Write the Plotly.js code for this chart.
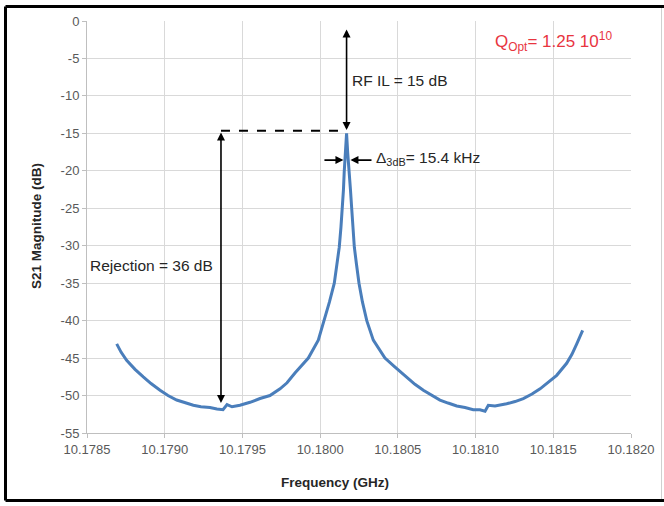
<!DOCTYPE html>
<html>
<head>
<meta charset="utf-8">
<script src="https://cdn.plot.ly/plotly-3.0.1.min.js"></script>
<style>
  html, body { margin: 0; padding: 0; background: #ffffff; }
  #chart { width: 664px; height: 506px; }
</style>
</head>
<body>
<div id="chart"></div>
<script>
// Frequency (GHz) values
const freqGHz = [
  10.178691, 10.178719, 10.178755, 10.178809, 10.178862, 10.178912, 10.178970, 10.179021,
  10.179077, 10.179131, 10.179184, 10.179233, 10.179291, 10.179336, 10.179375, 10.179401,
  10.179433, 10.179484, 10.179549, 10.179613, 10.179677, 10.179742, 10.179787, 10.179838,
  10.179890, 10.179924, 10.179988, 10.180027, 10.180060, 10.180091, 10.180110, 10.180123,
  10.180134, 10.180143, 10.180150, 10.180155, 10.180162, 10.180170, 10.180177, 10.180188,
  10.180195, 10.180203, 10.180211, 10.180220, 10.180234, 10.180250, 10.180272, 10.180300,
  10.180342, 10.180385, 10.180417, 10.180482, 10.180520, 10.180557, 10.180610, 10.180664,
  10.180720, 10.180771, 10.180823, 10.180879, 10.180932, 10.180985, 10.181028, 10.181061,
  10.181082, 10.181125, 10.181200, 10.181254, 10.181307, 10.181363, 10.181415, 10.181466,
  10.181522, 10.181586, 10.181620, 10.181651, 10.181689
];
// S21 magnitude (dB) values
const s21dB = [
  -43.1, -44.2, -45.3, -46.5, -47.5, -48.4, -49.3, -50.0,
  -50.6, -51.0, -51.3, -51.5, -51.6, -51.8, -51.9, -51.2,
  -51.5, -51.3, -50.9, -50.4, -50.0, -49.1, -48.3, -47.0,
  -45.8, -45.0, -42.6, -40.0, -37.5, -35.0, -32.5, -30.2,
  -27.5, -25.0, -22.5, -20.1, -17.5, -15.0, -17.5, -20.1,
  -22.5, -25.0, -27.5, -30.2, -32.5, -35.0, -37.5, -40.0,
  -42.6, -44.0, -45.0, -46.2, -46.9, -47.5, -48.5, -49.3,
  -50.0, -50.6, -51.0, -51.4, -51.6, -51.9, -51.9, -52.1,
  -51.3, -51.4, -51.1, -50.8, -50.4, -49.8, -49.1, -48.3,
  -47.3, -45.7, -44.5, -43.1, -41.3
];

// Axis ticks
const yTickVals = [0, -5, -10, -15, -20, -25, -30, -35, -40, -45, -50, -55];
const yTickText = ['0', '-5', '-10', '-15', '-20', '-25', '-30', '-35', '-40', '-45', '-50', '-55'];

// Annotation values
const peakFreq = 10.180170;
const rejectionFreq = 10.179362;
const dashLevel = -14.65;
const rejectionBottom = -51.2;
const rfTop = -0.95;
const bwLevel = -18.57;
const bwLeftStart = 10.180018, bwLeftEnd = 10.180150;
const bwRightStart = 10.180340, bwRightEnd = 10.180195;

const labelRF = 'RF IL = 15 dB';
const labelBW = '\u0394<sub>3dB</sub>= 15.4 kHz';
const labelRej = 'Rejection = 36 dB';
const labelQ = 'Q<sub>Opt</sub>= 1.25 10<sup>10</sup>';

const txtFont = {family: 'Liberation Sans, Arial, sans-serif', size: 15.5, color: '#262626'};
const tickFont = {family: 'Liberation Sans, Arial, sans-serif', size: 13, color: '#595959'};
const titleFont = {family: 'Liberation Sans, Arial, sans-serif', size: 13.5, color: '#262626', weight: 'bold'};

function arrow(x0, y0, x1, y1, both) {
  return {
    x: x1, y: y1, ax: x0, ay: y0, xref: 'x', yref: 'y', axref: 'x', ayref: 'y',
    text: '', showarrow: true, arrowhead: 2, arrowsize: 1, arrowwidth: 1.6,
    arrowcolor: '#000000', arrowside: both ? 'end+start' : 'end',
    startarrowhead: 2, startarrowsize: 1, standoff: 0, startstandoff: 0
  };
}

const trace = {
  x: freqGHz, y: s21dB, type: 'scatter', mode: 'lines',
  line: {color: '#4a7ebb', width: 3},
  hoverinfo: 'x+y', showlegend: false
};

const L = 87, R = 631, T = 21, B = 433;
const W = R - L, H = B - T;
const px = v => (v - L) / W;
const py = v => (B - v) / H;

const layout = {
  width: 664, height: 506, autosize: false,
  margin: {l: L, r: 664 - R, t: T, b: 506 - B, pad: 0},
  paper_bgcolor: '#ffffff', plot_bgcolor: '#ffffff',
  showlegend: false,
  xaxis: {
    range: [10.1785, 10.1820], dtick: 0.0005, tick0: 10.1785, tickformat: '.4f',
    showgrid: true, gridcolor: '#d9d9d9', gridwidth: 1, zeroline: false,
    showline: true, linecolor: '#bfbfbf', linewidth: 1, mirror: false,
    ticks: 'outside', ticklen: 4, tickcolor: '#bfbfbf', tickfont: tickFont
  },
  yaxis: {
    range: [-55, 0], tickmode: 'array', tickvals: yTickVals, ticktext: yTickText,
    showgrid: true, gridcolor: '#d9d9d9', gridwidth: 1, zeroline: false,
    showline: true, linecolor: '#bfbfbf', linewidth: 1, mirror: false,
    ticks: 'outside', ticklen: 4, tickcolor: '#bfbfbf', tickfont: tickFont
  },
  shapes: [
    {type: 'line', xref: 'x', yref: 'y', x0: rejectionFreq, x1: peakFreq, y0: dashLevel, y1: dashLevel,
     line: {color: '#000000', width: 2, dash: 'dash'}},
    {type: 'line', xref: 'paper', yref: 'paper', x0: px(5.5), x1: px(664), y0: py(6.5), y1: py(6.5),
     line: {color: '#000000', width: 3}},
    {type: 'line', xref: 'paper', yref: 'paper', x0: px(5.5), x1: px(5.5), y0: py(6.5), y1: py(500.5),
     line: {color: '#000000', width: 3}},
    {type: 'line', xref: 'paper', yref: 'paper', x0: px(5.5), x1: px(664), y0: py(500.5), y1: py(500.5),
     line: {color: '#000000', width: 3}},
    {type: 'line', xref: 'paper', yref: 'paper', x0: px(661.5), x1: px(661.5), y0: py(8), y1: py(499),
     line: {color: '#d0d0d0', width: 1}}
  ],
  annotations: [
    arrow(rejectionFreq, rejectionBottom, rejectionFreq, -14.9, true),
    arrow(peakFreq, rfTop, peakFreq, -14.55, true),
    arrow(bwLeftStart, bwLevel, bwLeftEnd, bwLevel, false),
    arrow(bwRightStart, bwLevel, bwRightEnd, bwLevel, false),
    {x: 10.180192, y: -7.88, xref: 'x', yref: 'y', text: labelRF, showarrow: false,
     xanchor: 'left', yanchor: 'middle', font: txtFont},
    {x: 10.180346, y: -18.3, xref: 'x', yref: 'y', text: labelBW, showarrow: false,
     xanchor: 'left', yanchor: 'middle', font: txtFont},
    {x: 10.1785064, y: -32.7, xref: 'x', yref: 'y', text: labelRej, showarrow: false,
     xanchor: 'left', yanchor: 'middle', font: txtFont},
    {x: 10.181112, y: -2.7, xref: 'x', yref: 'y', text: labelQ, showarrow: false,
     xanchor: 'left', yanchor: 'middle', font: {family: 'Liberation Sans, Arial, sans-serif', size: 17, color: '#e8353f'}},
    {x: px(335), y: py(482), xref: 'paper', yref: 'paper', text: 'Frequency (GHz)', showarrow: false,
     xanchor: 'center', yanchor: 'middle', font: titleFont},
    {x: px(36), y: py(226), xref: 'paper', yref: 'paper', text: 'S21 Magnitude (dB)', showarrow: false,
     textangle: -90, xanchor: 'center', yanchor: 'middle', font: titleFont}
  ]
};

Plotly.newPlot('chart', [trace], layout, {displayModeBar: false, staticPlot: true});
</script>
</body>
</html>
